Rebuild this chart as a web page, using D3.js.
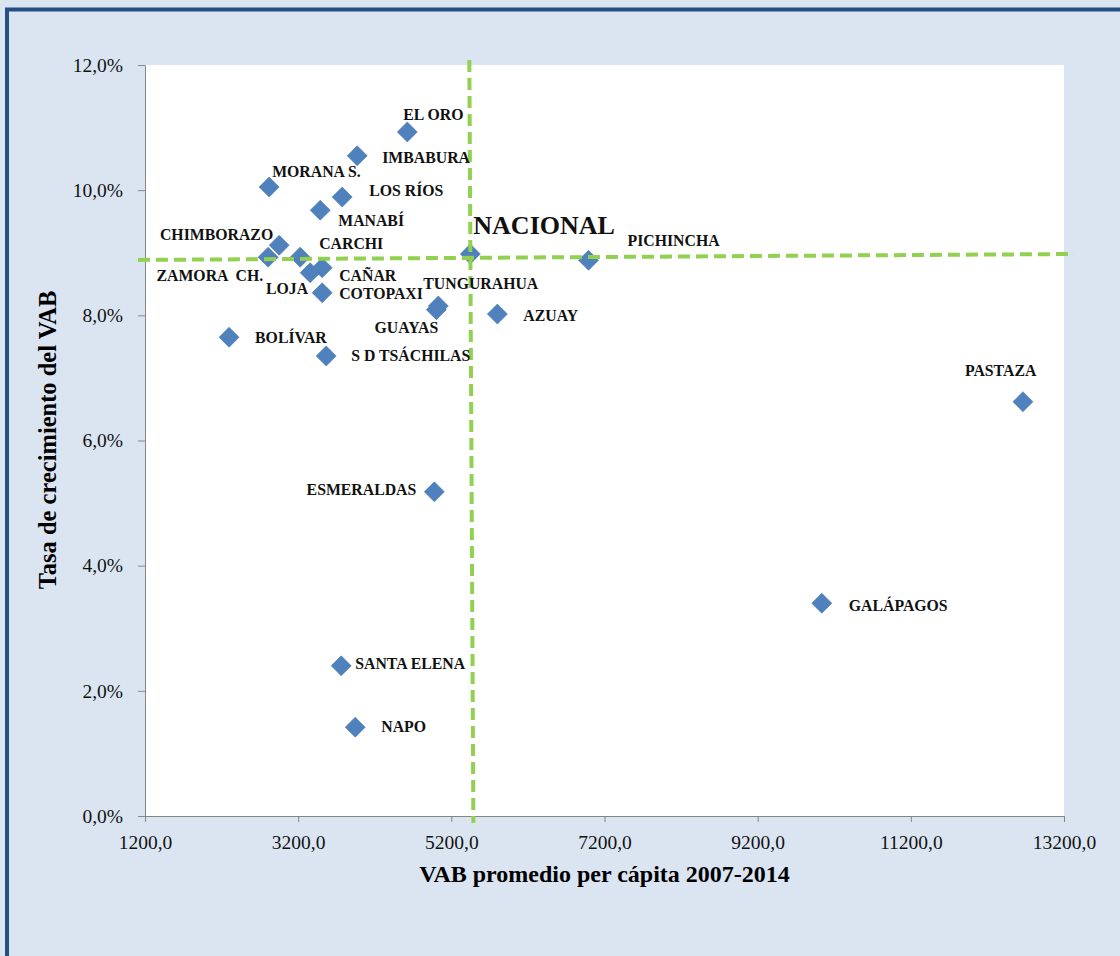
<!DOCTYPE html>
<html>
<head>
<meta charset="utf-8">
<title>VAB per cápita vs crecimiento</title>
<script src="https://d3js.org/d3.v7.min.js"></script>
<style>
  body { margin: 0; background: #fff; }
  svg { display: block; font-family: "Liberation Serif", "Times New Roman", serif; }
  .lbl { font-family: "Liberation Serif", serif; font-weight: bold; font-size: 15.8px; fill: #111; }
  .axis text { font-size: 19.5px; fill: #111; font-family: "Liberation Serif", serif; }
  .axis line, .axis path { stroke: #868686; }
</style>
</head>
<body>
<div id="chart"></div>
<script>
// provinces, VAB promedio per cápita 2007-2014 and tasa de crecimiento (fraction)
const provinces = ["EL ORO", "IMBABURA", "MORANA S.", "LOS RÍOS", "MANABÍ", "CHIMBORAZO",
  "ZAMORA  CH.", "CARCHI", "CAÑAR", "LOJA", "COTOPAXI", "NACIONAL", "PICHINCHA",
  "TUNGURAHUA", "GUAYAS", "AZUAY", "BOLÍVAR", "S D TSÁCHILAS", "PASTAZA",
  "ESMERALDAS", "GALÁPAGOS", "SANTA ELENA", "NAPO"];
const vabPerCapita = [4625, 3971, 2821, 3775, 3488, 2952,
  2808, 3226, 3514, 3357, 3514, 5448, 6991,
  5030, 5004, 5801, 2298, 3566, 12664,
  4978, 10037, 3762, 3945];
const growthRate = [0.1093, 0.1055, 0.1005, 0.0989, 0.0968, 0.0912,
  0.0893, 0.0893, 0.0876, 0.0868, 0.0836, 0.0898, 0.0888,
  0.0815, 0.0809, 0.0802, 0.0765, 0.0735, 0.0662,
  0.0518, 0.0340, 0.0240, 0.0142];

const xTicks = [1200, 3200, 5200, 7200, 9200, 11200, 13200];
const yTicks = [0, 0.02, 0.04, 0.06, 0.08, 0.10, 0.12];

// national reference lines (hand drawn in the original, slightly tilted)
const refVertical = [[5435, 0.1208], [5488, -0.0011]];
const refHorizontal = [[1108, 0.08885], [13331, 0.0898]];

const W = 1120, H = 956;
const plot = { left: 145, top: 65, right: 1064, bottom: 816 };

const svg = d3.select("#chart").append("svg")
  .attr("width", W).attr("height", H);

// outer chart frame
svg.append("rect")
  .attr("x", 0).attr("y", 0).attr("width", W).attr("height", H)
  .style("fill", "#dbe5f1");
svg.append("rect")
  .attr("x", 7).attr("y", 9.5).attr("width", W + 20).attr("height", H + 20)
  .style("fill", "none").style("stroke", "#254e84").style("stroke-width", 4);

svg.append("rect")
  .attr("x", plot.left).attr("y", plot.top)
  .attr("width", plot.right - plot.left).attr("height", plot.bottom - plot.top)
  .style("fill", "#fff");

const x = d3.scaleLinear().domain([1200, 13200]).range([plot.left, plot.right]);
const y = d3.scaleLinear().domain([0, 0.12]).range([plot.bottom, plot.top]);

const comma = s => s.replace(".", ",");

svg.append("g")
  .attr("class", "axis")
  .attr("transform", "translate(0," + plot.bottom + ")")
  .call(d3.axisBottom(x).tickValues(xTicks).tickSizeInner(6).tickSizeOuter(0).tickPadding(13)
    .tickFormat(d => comma(d3.format(".1f")(d))));

svg.append("g")
  .attr("class", "axis")
  .attr("transform", "translate(" + plot.left + ",0)")
  .call(d3.axisLeft(y).tickValues(yTicks).tickSizeInner(7).tickSizeOuter(0).tickPadding(15)
    .tickFormat(d => comma(d3.format(".1%")(d))));

svg.selectAll(".axis path").style("stroke", "#868686");

// axis titles
svg.append("text")
  .attr("x", (plot.left + plot.right) / 2).attr("y", 882)
  .attr("text-anchor", "middle")
  .style("font-size", "24px").style("font-weight", "bold")
  .text("VAB promedio per cápita 2007-2014");

svg.append("text")
  .attr("transform", "translate(56,440) rotate(-90)")
  .attr("text-anchor", "middle")
  .style("font-size", "24.5px").style("font-weight", "bold")
  .text("Tasa de crecimiento del VAB");

// points
const pts = provinces.map((p, i) => ({ name: p, vab: vabPerCapita[i], g: growthRate[i] }));

svg.append("g").selectAll("path")
  .data(pts)
  .join("path")
  .attr("d", d3.symbol(d3.symbolSquare, 200))
  .attr("transform", d => "translate(" + x(d.vab) + "," + y(d.g) + ") rotate(45)")
  .style("fill", "#4f81bd")
  .style("stroke", "#4a7ab5").style("stroke-width", 0.6);

// dashed reference lines
const line = d3.line().x(d => x(d[0])).y(d => y(d[1]));
[refVertical, refHorizontal].forEach(seg => {
  svg.append("path")
    .attr("d", line(seg))
    .style("fill", "none")
    .style("stroke", "#92d050")
    .style("stroke-width", 4)
    .style("stroke-dasharray", "12,6");
});

// label placement relative to each marker: [dx, dy, anchor]
const labelPos = {
  "EL ORO": [-4, -12, "start"],
  "IMBABURA": [25, 7, "start"],
  "MORANA S.": [3, -10, "start"],
  "LOS RÍOS": [27, -1, "start"],
  "MANABÍ": [18, 16, "start"],
  "CHIMBORAZO": [-6, -5, "end"],
  "ZAMORA  CH.": [-5, 24, "end"],
  "CARCHI": [19, -8, "start"],
  "CAÑAR": [17, 13, "start"],
  "LOJA": [-2, 21, "end"],
  "COTOPAXI": [17, 6, "start"],
  "NACIONAL": [3, -20, "start"],
  "PICHINCHA": [39, -14, "start"],
  "TUNGURAHUA": [-15, -17, "start"],
  "GUAYAS": [2, 23, "end"],
  "AZUAY": [26, 7, "start"],
  "BOLÍVAR": [26, 6, "start"],
  "S D TSÁCHILAS": [25, 5, "start"],
  "PASTAZA": [-58, -26, "start"],
  "ESMERALDAS": [-18, 3, "end"],
  "GALÁPAGOS": [27, 8, "start"],
  "SANTA ELENA": [14, 3, "start"],
  "NAPO": [26, 5, "start"]
};

svg.append("g").selectAll("text")
  .data(pts)
  .join("text")
  .attr("class", "lbl")
  .attr("x", d => x(d.vab) + labelPos[d.name][0])
  .attr("y", d => y(d.g) + labelPos[d.name][1])
  .attr("text-anchor", d => labelPos[d.name][2])
  .style("white-space", "pre")
  .style("font-size", d => d.name === "NACIONAL" ? "26px" : null)
  .text(d => d.name);
</script>
</body>
</html>
